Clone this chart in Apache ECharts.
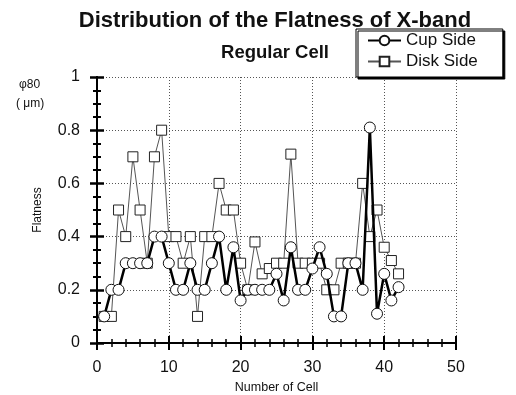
<!DOCTYPE html>
<html>
<head>
<meta charset="utf-8">
<script src="https://cdn.jsdelivr.net/npm/echarts@6/dist/echarts.min.js"></script>
<style>
html,body{margin:0;padding:0;background:#fff;}
#c{width:516px;height:395px;}
</style>
</head>
<body>
<div id="c"></div>
<script>
var cells = [1,2,3,4,5,6,7,8,9,10,11,12,13,14,15,16,17,18,19,20,21,22,23,24,25,26,27,28,29,30,31,32,33,34,35,36,37,38,39,40,41,42];
var cupSide = [0.1,0.2,0.2,0.3,0.3,0.3,0.3,0.4,0.4,0.3,0.2,0.2,0.3,0.2,0.2,0.3,0.4,0.2,0.36,0.16,0.2,0.2,0.2,0.2,0.26,0.16,0.36,0.2,0.2,0.28,0.36,0.26,0.1,0.1,0.3,0.3,0.2,0.81,0.11,0.26,0.16,0.21];
var diskSide = [0.1,0.1,0.5,0.4,0.7,0.5,0.3,0.7,0.8,0.4,0.4,0.3,0.4,0.1,0.4,0.4,0.6,0.5,0.5,0.3,0.2,0.38,0.26,0.28,0.3,0.3,0.71,0.3,0.3,0.3,0.3,0.2,0.2,0.3,0.3,0.3,0.6,0.4,0.5,0.36,0.31,0.26];
var xTicks = [0,10,20,30,40,50];
var yTicks = [0,0.2,0.4,0.6,0.8,1];

function pairs(xs, ys){ return xs.map(function(x,i){ return [x, ys[i]]; }); }

var chart = echarts.init(document.getElementById('c'), null, {renderer:'canvas'});
var fontFam = '"Liberation Sans", Arial, sans-serif';
var axisLineStyle = {color:'#000', width:2};
chart.setOption({
  animation:false,
  backgroundColor:'#fff',
  title:{
    text:'Distribution of the Flatness of X-band',
    subtext:'Regular Cell',
    left:270, top:5, textAlign:'center',
    itemGap:11,
    textStyle:{fontFamily:fontFam, fontWeight:'bold', fontSize:22, color:'#111'},
    subtextStyle:{fontFamily:fontFam, fontWeight:'bold', fontSize:18.5, color:'#111'}
  },
  legend:{
    orient:'vertical',
    left:356, top:29,
    padding:[3,25,7,11],
    itemGap:4,
    itemWidth:33, itemHeight:12,
    backgroundColor:'#fff',
    borderColor:'#000', borderWidth:1,
    shadowColor:'#000', shadowBlur:0, shadowOffsetX:2, shadowOffsetY:2,
    textStyle:{fontFamily:fontFam, fontSize:17, lineHeight:17, color:'#111'},
    data:['Cup Side','Disk Side']
  },
  grid:{left:97, right:60, top:77, bottom:52, containLabel:false, outerBoundsMode:'none'},
  xAxis:[{
    type:'value', min:xTicks[0], max:xTicks[xTicks.length-1], interval:10,
    name:'Number of Cell', nameLocation:'middle', nameGap:34,
    nameTextStyle:{fontFamily:fontFam, fontSize:12.5, color:'#111'},
    axisLine:{lineStyle:axisLineStyle},
    axisTick:{inside:true, length:7, lineStyle:{color:'#000', width:2}},
    minorTick:{show:true, splitNumber:5, length:4, lineStyle:{color:'#000', width:1.5}},
    splitLine:{show:true, lineStyle:{color:'#555', type:[1,2], width:1}},
    axisLabel:{fontFamily:fontFam, fontSize:16, color:'#111', margin:17}
  },{
    type:'value', position:'top', min:0, max:50, interval:10,
    axisLine:{show:true, lineStyle:axisLineStyle},
    axisTick:{inside:true, length:7, lineStyle:{color:'#000', width:2}},
    minorTick:{show:true, splitNumber:5, length:4, lineStyle:{color:'#000', width:1.5}},
    splitLine:{show:false}, axisLabel:{show:false}
  }],
  yAxis:[{
    type:'value', min:yTicks[0], max:yTicks[yTicks.length-1], interval:0.2,
    name:'Flatness', nameLocation:'middle', nameGap:53, nameRotate:90,
    nameTextStyle:{fontFamily:fontFam, fontSize:12, color:'#111'},
    axisLine:{lineStyle:axisLineStyle},
    axisTick:{inside:true, length:7, lineStyle:{color:'#000', width:2.5}},
    minorTick:{show:true, splitNumber:4, length:4, lineStyle:{color:'#000', width:2}},
    splitLine:{show:true, lineStyle:{color:'#555', type:[1,2], width:1}},
    axisLabel:{fontFamily:fontFam, fontSize:16, color:'#111', margin:17}
  },{
    type:'value', position:'right', min:0, max:1, interval:0.2,
    axisLine:{show:true, lineStyle:axisLineStyle},
    axisTick:{inside:true, length:7, lineStyle:{color:'#000', width:2.5}},
    minorTick:{show:true, splitNumber:4, length:4, lineStyle:{color:'#000', width:2}},
    splitLine:{show:false}, axisLabel:{show:false}
  }],
  graphic:[
    {type:'text', left:19, top:79, style:{text:'\u03c680', fontFamily:fontFam, fontSize:12, fill:'#111'}},
    {type:'text', left:16, top:98, style:{text:'( \u03bcm)', fontFamily:fontFam, fontSize:12, fill:'#111'}}
  ],
  series:[{
    name:'Disk Side', type:'line', data:pairs(cells, diskSide),
    symbol:'rect', symbolSize:10,
    itemStyle:{color:'#fff', borderColor:'#222', borderWidth:1},
    lineStyle:{color:'#555', width:1},
    z:3
  },{
    name:'Cup Side', type:'line', data:pairs(cells, cupSide),
    symbol:'circle', symbolSize:11,
    itemStyle:{color:'#fff', borderColor:'#111', borderWidth:1},
    lineStyle:{color:'#000', width:2.5},
    z:4
  }]
});
</script>
</body>
</html>
